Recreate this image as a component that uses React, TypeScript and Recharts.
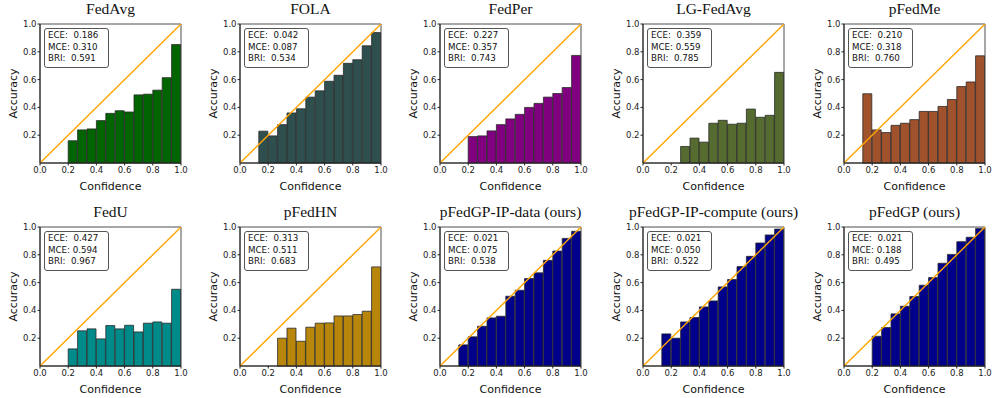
import React from 'react';
import { ComposedChart, Bar, XAxis, YAxis, ReferenceLine, ReferenceArea, Label } from 'recharts';

// 15 equal-width confidence bins
const binLabels = ['b1', 'b2', 'b3', 'b4', 'b5', 'b6', 'b7', 'b8', 'b9', 'b10', 'b11', 'b12', 'b13', 'b14', 'b15'];
const binMids = binLabels.map((_, i) => (i + 0.5) / binLabels.length);

const xTicks = [0, 0.2, 0.4, 0.6, 0.8, 1.0];
const yTicks = [0.2, 0.4, 0.6, 0.8, 1.0];

const fedAvgAcc = [null, null, null, 0.16, 0.238, 0.245, 0.305, 0.357, 0.376, 0.367, 0.49, 0.495, 0.524, 0.614, 0.852];
const folaAcc = [null, null, 0.229, 0.195, 0.276, 0.36, 0.39, 0.474, 0.519, 0.588, 0.631, 0.717, 0.743, 0.843, 0.938];
const fedPerAcc = [null, null, null, 0.19, 0.195, 0.231, 0.276, 0.317, 0.35, 0.4, 0.429, 0.474, 0.5, 0.543, 0.774];
const lgFedAvgAcc = [null, null, null, null, 0.119, 0.179, 0.15, 0.286, 0.307, 0.279, 0.286, 0.388, 0.329, 0.343, 0.652];
const pFedMeAcc = [null, null, 0.498, 0.238, 0.219, 0.271, 0.286, 0.312, 0.371, 0.371, 0.407, 0.457, 0.55, 0.583, 0.771];
const fedUAcc = [null, null, null, 0.123, 0.253, 0.267, 0.195, 0.291, 0.267, 0.293, 0.245, 0.308, 0.317, 0.308, 0.552];
const pFedHNAcc = [null, null, null, null, 0.2, 0.272, 0.178, 0.279, 0.308, 0.31, 0.36, 0.36, 0.37, 0.394, 0.713];
const ipDataAcc = [null, null, 0.152, 0.21, 0.286, 0.346, 0.358, 0.502, 0.545, 0.629, 0.67, 0.76, 0.827, 0.918, 0.969];
const ipComputeAcc = [null, null, 0.231, 0.2, 0.317, 0.349, 0.425, 0.468, 0.569, 0.622, 0.715, 0.789, 0.885, 0.943, 0.985];
const pFedGPAcc = [null, null, null, 0.214, 0.277, 0.375, 0.43, 0.5, 0.581, 0.636, 0.739, 0.803, 0.894, 0.926, 0.99];

const panels = [
  { title: 'FedAvg', acc: fedAvgAcc, color: '#006400', ece: '0.186', mce: '0.310', bri: '0.591' },
  { title: 'FOLA', acc: folaAcc, color: '#2F4F4F', ece: '0.042', mce: '0.087', bri: '0.534' },
  { title: 'FedPer', acc: fedPerAcc, color: '#800080', ece: '0.227', mce: '0.357', bri: '0.743' },
  { title: 'LG-FedAvg', acc: lgFedAvgAcc, color: '#556B2F', ece: '0.359', mce: '0.559', bri: '0.785' },
  { title: 'pFedMe', acc: pFedMeAcc, color: '#A0522D', ece: '0.210', mce: '0.318', bri: '0.760' },
  { title: 'FedU', acc: fedUAcc, color: '#008B8B', ece: '0.427', mce: '0.594', bri: '0.967' },
  { title: 'pFedHN', acc: pFedHNAcc, color: '#B8860B', ece: '0.313', mce: '0.511', bri: '0.683' },
  { title: 'pFedGP-IP-data (ours)', acc: ipDataAcc, color: '#00008B', ece: '0.021', mce: '0.075', bri: '0.538' },
  { title: 'pFedGP-IP-compute (ours)', acc: ipComputeAcc, color: '#00008B', ece: '0.021', mce: '0.050', bri: '0.522' },
  { title: 'pFedGP (ours)', acc: pFedGPAcc, color: '#00008B', ece: '0.021', mce: '0.188', bri: '0.495' },
];

const colLeft = [40, 240, 440, 643, 844];
const rowTop = [24, 227];
const PW = 141;

const sans = 'DejaVu Sans, sans-serif';
const tickStyle = { fontSize: 8.5, fill: '#222', fontFamily: sans };

const YLabel = ({ viewBox }: any) => {
  const x = viewBox.x + 3;
  const y = viewBox.y + viewBox.height / 2;
  return (
    <text x={x} y={y} transform={`rotate(-90 ${x} ${y})`} textAnchor="middle" dominantBaseline="central" fontSize={11} fontFamily={sans} fill="#111">
      Accuracy
    </text>
  );
};

const Panel = ({ p, left, top }: any) => {
  const data = binLabels.map((b, i) => ({ bin: b, mid: binMids[i], acc: p.acc[i] }));
  return (
    <div style={{ position: 'absolute', left: left - 40, top: top - 24, width: 189, height: 195 }}>
      <ComposedChart width={189} height={195} data={data} margin={{ top: 24, right: 8, left: 10, bottom: 0 }} barCategoryGap={0} barGap={0}>
        <XAxis
          xAxisId="num"
          dataKey="mid"
          type="number"
          domain={[0, 1]}
          allowDataOverflow
          ticks={xTicks}
          tickFormatter={(v: number) => v.toFixed(1)}
          tick={tickStyle}
          tickSize={2.5}
          tickMargin={1}
          stroke="#222"
          height={32}
          interval={0}
        >
          <Label value="Confidence" position="insideBottom" offset={5} fontSize={11} fontFamily={sans} fill="#111" />
        </XAxis>
        <XAxis xAxisId="bin" dataKey="bin" type="category" hide height={0} padding={{ left: 0, right: 0 }} />
        <YAxis
          type="number"
          domain={[0, 1]}
          ticks={yTicks}
          tickFormatter={(v: number) => v.toFixed(1)}
          tick={tickStyle}
          tickSize={2.5}
          tickMargin={1}
          stroke="#222"
          width={30}
          interval={0}
          label={{ content: YLabel }}
        />
        <Bar xAxisId="bin" dataKey="acc" fill={p.color} stroke="#2a2a2a" strokeWidth={0.8} isAnimationActive={false} />
        <ReferenceLine xAxisId="num" segment={[{ x: 0, y: 0 }, { x: 1, y: 1 }]} stroke="#FFA500" strokeWidth={1.4} />
        <ReferenceArea xAxisId="num" x1={0} x2={1} y1={0} y2={1} fill="none" stroke="#222" strokeWidth={0.8} fillOpacity={0} />
      </ComposedChart>
      <div
        style={{
          position: 'absolute',
          left: 40 + PW / 2 - 100,
          width: 200,
          top: 0,
          textAlign: 'center',
          fontFamily: 'Liberation Serif, serif',
          fontSize: 15.5,
          lineHeight: '18px',
          color: '#111',
          whiteSpace: 'nowrap',
          pointerEvents: 'none',
        }}
      >
        {p.title}
      </div>
      <div
        style={{
          position: 'absolute',
          left: 44,
          top: 28,
          width: 65,
          height: 40,
          boxSizing: 'border-box',
          border: '1px solid #555',
          borderRadius: 3,
          background: 'rgba(255,255,255,0.85)',
          fontFamily: sans,
          fontSize: 8.7,
          lineHeight: '11.7px',
          padding: '1px 0 0 3px',
          color: '#111',
          whiteSpace: 'pre',
        }}
      >
        {`ECE:  ${p.ece}\nMCE: ${p.mce}\nBRI:  ${p.bri}`}
      </div>
    </div>
  );
};

export default function App() {
  return (
    <div style={{ position: 'absolute', left: 0, top: 0, width: 993, height: 398, background: '#fff', overflow: 'hidden' }}>
      {panels.map((p, i) => (
        <Panel key={p.title} p={p} left={colLeft[i % 5]} top={rowTop[Math.floor(i / 5)]} />
      ))}
    </div>
  );
}
